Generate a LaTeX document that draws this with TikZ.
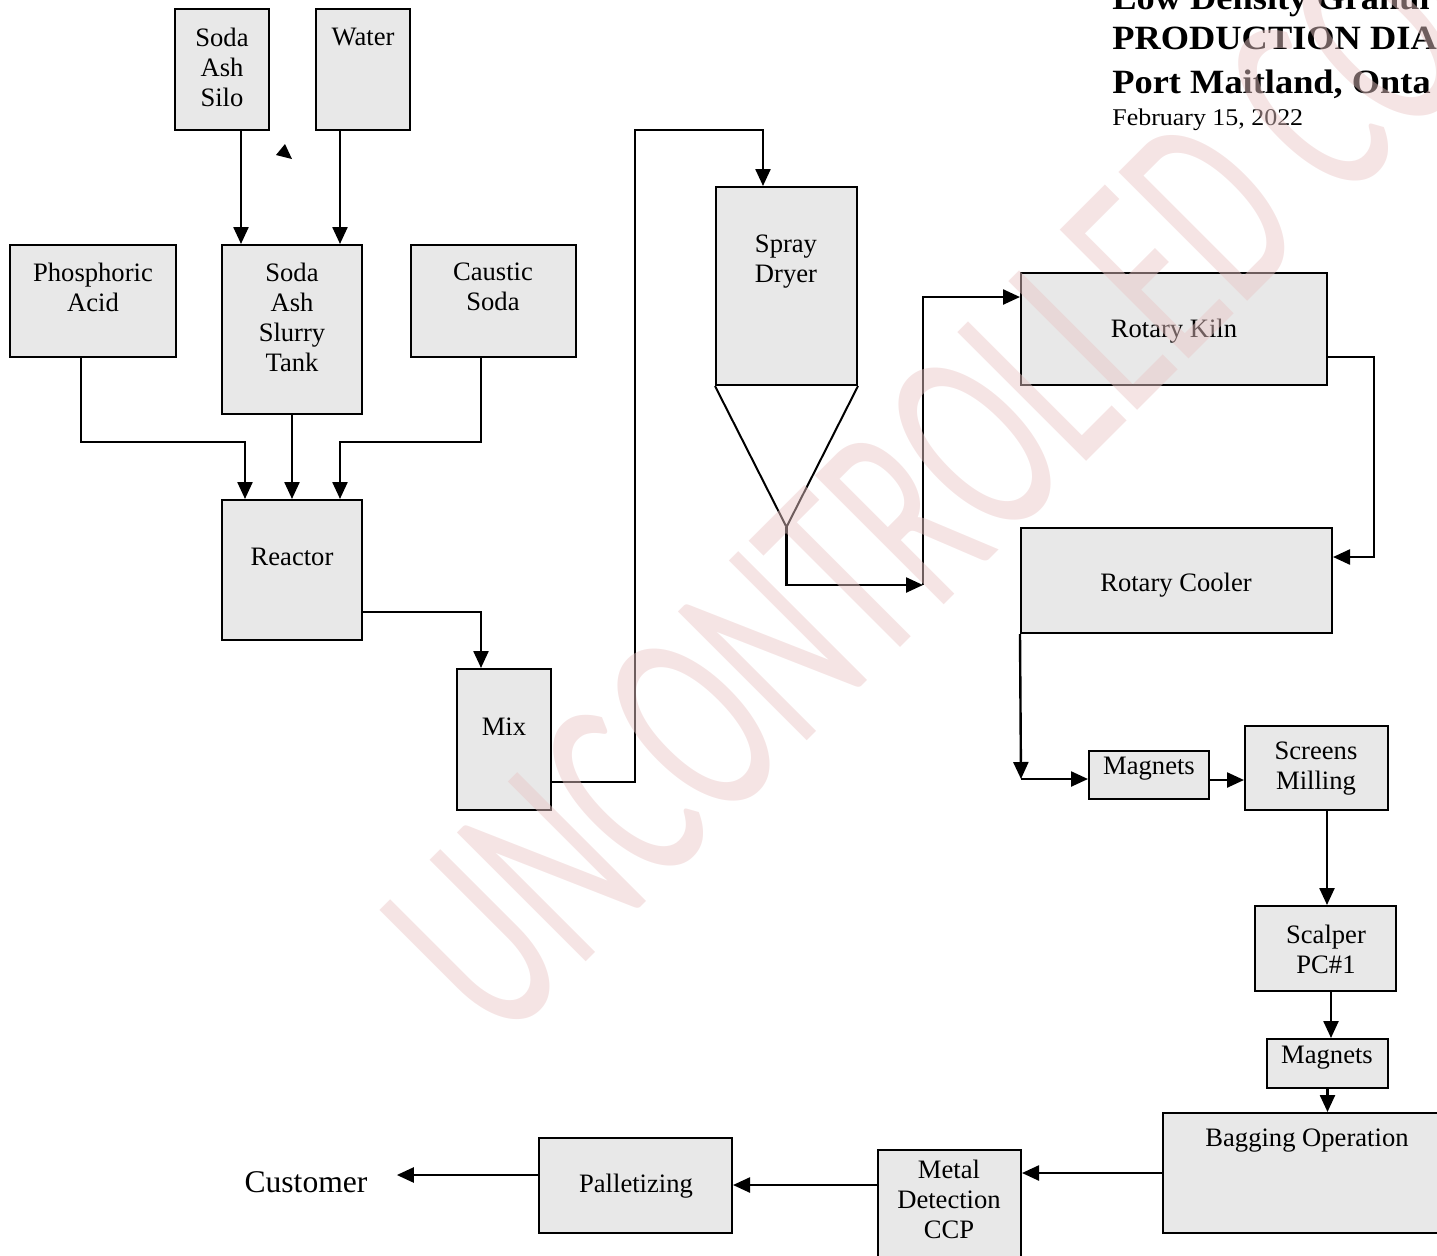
\documentclass[tikz,border=0pt]{standalone}
\usepackage{fontspec}
\setmainfont{Liberation Serif}
\newfontfamily\wmfont{Carlito}
\usetikzlibrary{arrows.meta}
\definecolor{boxfill}{RGB}{232,232,232}
\definecolor{wmcol}{RGB}{234,198,198}
\begin{document}
\begin{tikzpicture}[x=0.5pt,y=-0.5pt,
  box/.style={draw=black, line width=1pt, fill=boxfill, inner sep=0pt},
  lbl/.style={font=\fontsize{13.3}{15}\selectfont, align=center, inner sep=0pt},
  ttl/.style={anchor=base west, inner sep=0pt, font=\bfseries\fontsize{17}{20}\selectfont},
  arr/.style={line width=1.2pt, -{Triangle[length=8.5pt,width=7.5pt]}},
  plain/.style={line width=1.2pt}]
\path[use as bounding box] (0,0) rectangle (1437,1255);
\clip (0,0) rectangle (1437,1255);

% boxes
\node[box, minimum width=47pt, minimum height=60.5pt] (silo) at (222,69.5) {};
\node[box, minimum width=47pt, minimum height=60.5pt] (water) at (363,69.5) {};
\node[box, minimum width=83pt, minimum height=56pt] (phos) at (93,301) {};
\node[box, minimum width=70pt, minimum height=84.5pt] (tank) at (292,329.5) {};
\node[box, minimum width=82.5pt, minimum height=56pt] (caustic) at (493.5,301) {};
\node[box, minimum width=70pt, minimum height=70pt] (reactor) at (292,570) {};
\node[box, minimum width=47pt, minimum height=70.5pt] (mix) at (504,739.5) {};
\node[box, minimum width=70.5pt, minimum height=99pt] (spray) at (786.5,286) {};
\node[box, minimum width=153pt, minimum height=56pt] (kiln) at (1174,329) {};
\node[box, minimum width=155.5pt, minimum height=52.5pt] (cooler) at (1176.5,580.5) {};
\node[box, minimum width=60pt, minimum height=24pt] (mag1) at (1149,775) {};
\node[box, minimum width=71.5pt, minimum height=42pt] (screens) at (1316.5,768) {};
\node[box, minimum width=70.5pt, minimum height=42.5pt] (scalper) at (1325.5,948.5) {};
\node[box, minimum width=60.5pt, minimum height=24.5pt] (mag2) at (1327.5,1063.5) {};
\node[box, minimum width=144pt, minimum height=60pt] (bagging) at (1307,1173) {};
\node[box, minimum width=71.5pt, minimum height=60pt] (metal) at (949.5,1210) {};
\node[box, minimum width=96.5pt, minimum height=47.5pt] (pallet) at (635.5,1185.5) {};

% cone of spray dryer
\coordinate (tip) at (786.5,527);
\draw[line width=1pt, line join=miter] (spray.south west) -- (tip) -- (spray.south east);

% labels
\node[lbl] (silo-t) at (222,67) {Soda\\Ash\\Silo};
\node[lbl] (water-t) at (363,37) {Water};
\node[lbl] (phos-t) at (93,287) {Phosphoric\\Acid};
\node[lbl] (tank-t) at (292,317) {Soda\\Ash\\Slurry\\Tank};
\node[lbl] (caustic-t) at (493,287) {Caustic\\Soda};
\node[lbl] (reactor-t) at (292,557) {Reactor};
\node[lbl] (mix-t) at (504,727) {Mix};
\node[lbl] (spray-t) at (786,262) {Spray\\Dryer};
\node[lbl] (kiln-t) at (1174,331) {Rotary Kiln};
\node[lbl] (cooler-t) at (1176,585) {Rotary Cooler};
\node[lbl] (mag1-t) at (1149,769) {Magnets};
\node[lbl] (screens-t) at (1316,769) {Screens\\Milling};
\node[lbl] (scalper-t) at (1326,949) {Scalper\\PC\#1};
\node[lbl] (mag2-t) at (1327,1058) {Magnets};
\node[lbl] (bagging-t) at (1307,1141) {Bagging Operation};
\node[lbl] (metal-t) at (949,1199) {Metal\\Detection\\CCP};
\node[lbl] (pallet-t) at (636,1186) {Palletizing};
\node[lbl, font=\fontsize{15.8}{18}\selectfont] (customer) at (306,1182) {Customer};

% title
\node[ttl] (t1) at (1112,9) {\scalebox{1.07}[1]{Low Density Granul}};
\node[ttl] (t2) at (1112,49) {\scalebox{1.07}[1]{PRODUCTION DIA}};
\node[ttl] (t3) at (1112,93) {\scalebox{1.07}[1]{Port Maitland, Onta}};
\node[anchor=base west, inner sep=0pt, font=\fontsize{12}{14}\selectfont] (date) at (1112,125) {\scalebox{1.08}[1]{February 15, 2022}};

% junction coordinates
\coordinate (j1) at (245,442);
\coordinate (j2) at (340,442);
\coordinate (j3) at (635,130);
\coordinate (j4) at (923,585);
\coordinate (j5) at (1374,450);
\coordinate (j6) at (1021,779);
\coordinate (pl-out) at ([yshift=5.25pt]pallet.west);
\coordinate (cust-in) at ([xshift=14.5pt]customer.east);

% connectors
\draw[arr] ([xshift=9.5pt]silo.south) -- ([xshift=9.5pt]silo.south |- tank.north);
\draw[arr] ([xshift=-11.5pt]water.south) -- ([xshift=-11.5pt]water.south |- tank.north);
\draw[arr] ([xshift=-6pt]phos.south) |- (j1) -- (j1 |- reactor.north);
\draw[arr] (tank.south) -- (reactor.north);
\draw[arr] ([xshift=-6.25pt]caustic.south) |- (j2) -- (j2 |- reactor.north);
\draw[arr] ([yshift=-21pt]reactor.east) -| ([xshift=-11.5pt]mix.north);
\draw[arr] ([yshift=-21.25pt]mix.east) -| (j3) -| ([xshift=-11.75pt]spray.north);
\draw[arr] (tip) |- (j4);
\draw[arr] (j4) |- ([yshift=16pt]kiln.west);
\draw[arr] ([yshift=-14pt]kiln.east) -| (j5) |- ([yshift=11.75pt]cooler.east);
\draw[arr] (cooler.south west) -- (j6);
\draw[arr] (j6) -- (j6 -| mag1.west);
\draw[arr] ([yshift=-2.5pt]mag1.east) -- ([yshift=-2.5pt]mag1.east -| screens.west);
\draw[arr] ([xshift=5.25pt]screens.south) -- ([xshift=5.25pt]screens.south |- scalper.north);
\draw[arr] ([xshift=2.75pt]scalper.south) -- ([xshift=2.75pt]scalper.south |- mag2.north);
\draw[arr] (mag2.south) -- (mag2.south |- bagging.north);
\draw[arr] (bagging.west) -- (bagging.west -| metal.east);
\draw[arr] ([yshift=12.5pt]metal.west) -- ([yshift=12.5pt]metal.west -| pallet.east);
\draw[arr] (pl-out) -- (pl-out -| cust-in);

% stray arrowhead
\fill (276,155) -- (285,144) -- (292,159) -- cycle;

% watermark
\node[rotate=45, anchor=base west, inner sep=0pt, text=wmcol, opacity=0.47, text opacity=0.47,
  font=\wmfont\fontsize{142}{142}\selectfont] (wm) at (500,1048) {\scalebox{0.6}[1]{UNCONTROLLED COPY}};
\end{tikzpicture}
\end{document}
